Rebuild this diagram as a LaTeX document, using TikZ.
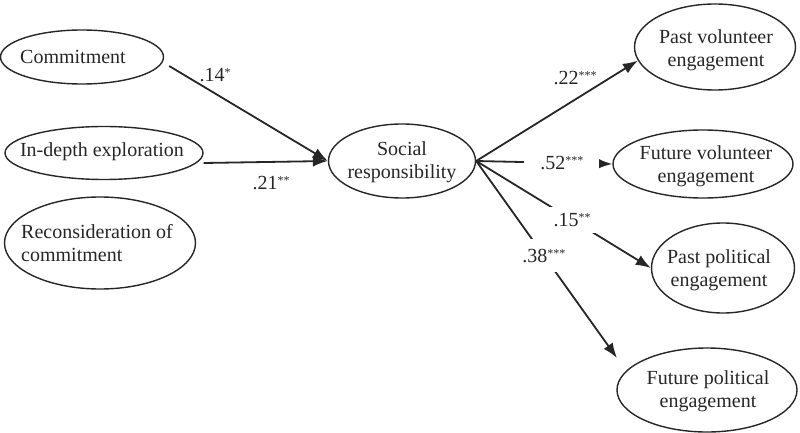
\documentclass[tikz,border=0pt]{standalone}
\usepackage{fontspec}
\setmainfont{Liberation Serif}
\usetikzlibrary{shapes.geometric,arrows.meta}
\newcommand\sigstars[1]{\raisebox{4.5pt}{\fontsize{12}{12}\selectfont #1}}
\begin{document}
\begin{tikzpicture}[x=1pt,y=-1pt,
  ell/.style={draw=black!85, line width=1.4pt, ellipse, inner sep=0pt},
  txt/.style={font=\fontsize{20}{23}\selectfont, align=center, inner sep=0pt, text=black!85},
  lbl/.style={font=\fontsize{20}{23}\selectfont, inner sep=1pt, text=black!85},
  gaplbl/.style={lbl, fill=white},
  arr/.style={draw=black!85, line width=1.8pt, -{Latex[length=15pt,width=11pt]}}]
\useasboundingbox (0,0) rectangle (800,433);
% ellipses
\node[ell, minimum width=163pt, minimum height=54pt] (comm) at (82,57) {};
\node[txt] (commt) at (73,57) {Commitment};
\node[ell, minimum width=198pt, minimum height=53pt] (ind) at (104,153) {};
\node[txt] (indt) at (102,152) {In-depth exploration};
\node[ell, minimum width=191pt, minimum height=92pt] (rec) at (100,243) {};
\node[txt, align=left] (rect) at (97,243) {Reconsideration of\\commitment};
\node[ell, minimum width=147pt, minimum height=74pt] (soc) at (402,161) {};
\node[txt] (soct) at (402,162) {Social\\responsibility};
\node[ell, minimum width=161pt, minimum height=86pt] (pv) at (715,47) {};
\node[txt] (pvt) at (716,50) {Past volunteer\\engagement};
\node[ell, minimum width=180pt, minimum height=68pt] (fv) at (703,164) {};
\node[txt] (fvt) at (706,166) {Future volunteer\\engagement};
\node[ell, minimum width=143pt, minimum height=90pt] (pp) at (723,268) {};
\node[txt] (ppt) at (719,270) {Past political\\engagement};
\node[ell, minimum width=180pt, minimum height=84pt] (fp) at (707,390) {};
\node[txt] (fpt) at (708,391) {Future political\\engagement};
% free ends
\coordinate (fptip) at (617,358);
% connectors
\draw[arr] ([xshift=5pt,yshift=-9pt]comm.east) -- (soc.west);
\node[lbl] (l14) at (215,75) {.14\sigstars{*}};
\draw[arr] ([yshift=-10pt]ind.east) -- (soc.west);
\node[lbl] (l21) at (271,183) {.21\sigstars{**}};
\draw[arr] (soc.east) -- (pv.190);
\node[lbl] (l22) at (575,78) {.22\sigstars{***}};
\draw[arr] (soc.east) -- node[gaplbl, pos=0.63, inner xsep=16pt, inner ysep=4pt] (l52) {.52\sigstars{***}} (fv.west);
\draw[arr] (soc.east) -- node[gaplbl, pos=0.55, inner sep=6pt] (l15) {.15\sigstars{**}} (pp.west);
\draw[arr] (soc.east) -- node[gaplbl, pos=0.48, inner xsep=4pt, inner ysep=10pt] (l38) {.38\sigstars{***}} (fptip);
\end{tikzpicture}
\end{document}
